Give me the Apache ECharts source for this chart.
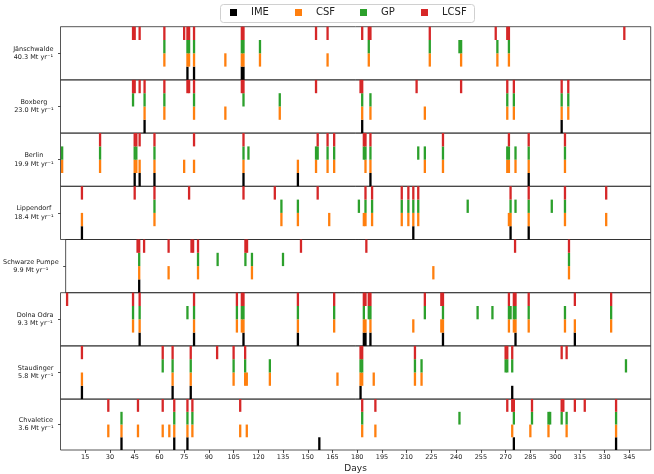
<!DOCTYPE html>
<html>
<head>
<meta charset="utf-8">
<script src="https://cdn.jsdelivr.net/npm/echarts@6/dist/echarts.min.js"></script>
<style>
  html, body { margin: 0; padding: 0; background: #fff; }
  #chart { width: 654px; height: 474px; }
</style>
</head>
<body>
<div id="chart"></div>
<script>
// facilities, top to bottom
var facilities = ['Jänschwalde', 'Boxberg', 'Berlin', 'Lippendorf', 'Schwarze Pumpe', 'Dolna Odra', 'Staudinger', 'Chvaletice'];
var emissions = ['40.3', '23.0', '19.9', '18.4', '9.9', '9.3', '5.8', '3.6'];
var dayTicks = [15, 30, 45, 60, 75, 90, 105, 120, 135, 150, 165, 180, 195, 210, 225, 240, 255, 270, 285, 300, 315, 330, 345];

// detection days per facility (same order as facilities)
var imeDays = [
    [77, 81, 110, 111],
    [51, 183, 304],
    [45, 48, 57, 111, 144, 188, 284],
    [13, 214, 273, 284],
    [45],
    [48, 81, 111, 144, 184, 185, 188, 232, 276, 312],
    [13, 68, 79, 182, 274],
    [37, 69, 77, 157, 275, 337]
];
var csfDays = [
    [63, 77, 78, 81, 100, 110, 111, 121, 162, 187, 224, 243, 265, 272],
    [51, 63, 81, 100, 133, 183, 188, 221, 271, 275, 304, 308],
    [1, 24, 45, 46, 48, 57, 75, 81, 111, 144, 155, 162, 166, 185, 188, 221, 232, 271, 272, 276, 284, 306],
    [13, 57, 134, 144, 163, 184, 185, 189, 207, 211, 214, 217, 272, 273, 284, 306, 331],
    [45, 63, 81, 114, 225, 308],
    [44, 48, 81, 107, 110, 111, 144, 166, 184, 185, 188, 214, 231, 232, 272, 275, 276, 284, 306, 312, 334],
    [13, 68, 79, 105, 112, 113, 127, 168, 182, 183, 190, 215, 219],
    [29, 37, 47, 62, 66, 69, 77, 80, 109, 113, 183, 191, 274, 285, 296, 307, 337]
];
var gpDays = [
    [63, 77, 78, 81, 110, 111, 121, 187, 224, 242, 243, 265, 272],
    [44, 51, 63, 81, 111, 133, 183, 188, 271, 275, 304, 308],
    [1, 24, 45, 46, 57, 111, 114, 155, 156, 162, 166, 184, 185, 188, 217, 221, 232, 271, 272, 276, 284, 306],
    [57, 134, 144, 181, 185, 189, 207, 211, 214, 217, 247, 273, 276, 284, 298, 306],
    [45, 81, 93, 110, 114, 133, 308],
    [44, 48, 77, 81, 107, 110, 111, 144, 166, 184, 187, 188, 221, 232, 253, 262, 272, 273, 275, 276, 284, 306, 334],
    [62, 68, 79, 105, 112, 127, 182, 183, 215, 219, 270, 271, 274, 343],
    [37, 69, 77, 80, 183, 242, 275, 286, 296, 297, 304, 307, 337]
];
var lcsfDays = [
    [44, 45, 48, 63, 75, 77, 78, 81, 110, 111, 155, 162, 183, 187, 188, 224, 264, 271, 272, 342],
    [44, 45, 48, 51, 63, 77, 78, 81, 110, 111, 155, 182, 183, 216, 243, 271, 275, 304, 308],
    [24, 45, 46, 48, 57, 81, 111, 156, 162, 166, 184, 185, 188, 232, 272, 284, 306],
    [13, 45, 57, 78, 111, 130, 156, 185, 189, 207, 211, 214, 217, 273, 284, 306, 331],
    [44, 45, 48, 63, 77, 78, 81, 110, 111, 144, 184, 275, 308],
    [4, 44, 48, 81, 107, 110, 111, 144, 166, 184, 185, 187, 188, 221, 231, 232, 272, 275, 276, 284, 312, 334],
    [13, 62, 68, 79, 95, 105, 112, 182, 183, 215, 270, 271, 274, 304, 307],
    [29, 47, 62, 69, 77, 80, 109, 183, 191, 271, 274, 275, 286, 304, 305, 312, 318, 337]
];

// level = sub-row inside each panel (0 bottom .. 3 top)
var methods = [
    {name: 'IME', color: '#000000', days: imeDays, level: 0},
    {name: 'CSF', color: '#ff7f0e', days: csfDays, level: 1},
    {name: 'GP', color: '#2ca02c', days: gpDays, level: 2},
    {name: 'LCSF', color: '#d62728', days: lcsfDays, level: 3}
];

var FONT = '"DejaVu Sans", sans-serif';
var chartDom = document.getElementById('chart');
var myChart = echarts.init(chartDom);

// 用于测量标签宽度
var ctx = document.createElement('canvas').getContext('2d');
ctx.font = '6.5px "DejaVu Sans"';

var panelTop = 26.7, panelH = 53.2;
var grids = [], xAxes = [], yAxes = [], series = [];

facilities.forEach(function (fac, i) {
    var last = i === facilities.length - 1;
    grids.push({
        left: 60.5, right: 3.3, top: panelTop + i * panelH, height: panelH,
        show: true, borderColor: '#2b2b2b', borderWidth: 0.8, backgroundColor: 'transparent'
    });
    xAxes.push({
        type: 'value', gridIndex: i, min: 0, max: 358,
        axisLine: {show: false},
        splitLine: {show: false},
        axisTick: {show: last, length: 3, lineStyle: {color: '#222', width: 0.8}, customValues: dayTicks},
        axisLabel: {show: last, fontSize: 6.5, fontFamily: FONT, color: '#222', margin: 4, customValues: dayTicks},
        name: last ? 'Days' : '', nameLocation: 'middle', nameGap: 14,
        nameTextStyle: {fontSize: 9, fontFamily: FONT, color: '#222'}
    });
    var line2 = emissions[i] + ' Mt yr\u207B\u00B9';
    var w = Math.max(ctx.measureText(fac).width, ctx.measureText(line2).width);
    yAxes.push({
        type: 'value', gridIndex: i, min: 0, max: 4, interval: 2,
        axisLine: {show: false},
        splitLine: {show: false},
        axisTick: {show: true, length: 2.5, lineStyle: {color: '#222', width: 0.8}, customValues: [2]},
        axisLabel: {
            show: true, customValues: [2], fontSize: 6.5, fontFamily: FONT, color: '#222',
            align: 'center', lineHeight: 8.5, margin: 7 + w / 2,
            formatter: function (v) { return v === 2 ? fac + '\n' + line2 : ''; }
        }
    });
    methods.forEach(function (m) {
        series.push({
            type: 'custom', name: m.name, xAxisIndex: i, yAxisIndex: i,
            itemStyle: {color: m.color},
            data: m.days[i].map(function (d) { return [d]; }),
            renderItem: function (params, api) {
                var d = api.value(0);
                var p0 = api.coord([d - 0.7, m.level]);
                var p1 = api.coord([d + 0.7, m.level + 1]);
                return {
                    type: 'rect',
                    shape: {x: p0[0], y: p1[1], width: p1[0] - p0[0], height: p0[1] - p1[1]},
                    style: {fill: api.visual('color')}
                };
            }
        });
    });
});

// one legend per entry so the columns sit where the reference has them
var legendLefts = [230, 295, 360, 421];
var legends = methods.map(function (m, k) {
    return {
        data: [{name: m.name, icon: 'rect'}],
        left: legendLefts[k], top: 7.5, padding: 0,
        itemWidth: 7, itemHeight: 7,
        formatter: function (name) { return '{t|' + name + '}'; },
        textStyle: {
            fontSize: 10, fontFamily: FONT, color: '#222',
            rich: {t: {fontSize: 10, fontFamily: FONT, color: '#222', padding: [0, 0, 0, 9]}}
        }
    };
});

var option = {
    animation: false,
    backgroundColor: '#fff',
    graphic: [{
        type: 'rect', z: 0,
        shape: {x: 220.5, y: 4.5, width: 254, height: 18, r: 3},
        style: {fill: '#fff', stroke: '#d0d0d0', lineWidth: 1}
    }],
    legend: legends,
    grid: grids,
    xAxis: xAxes,
    yAxis: yAxes,
    series: series
};

myChart.setOption(option);
</script>
</body>
</html>
